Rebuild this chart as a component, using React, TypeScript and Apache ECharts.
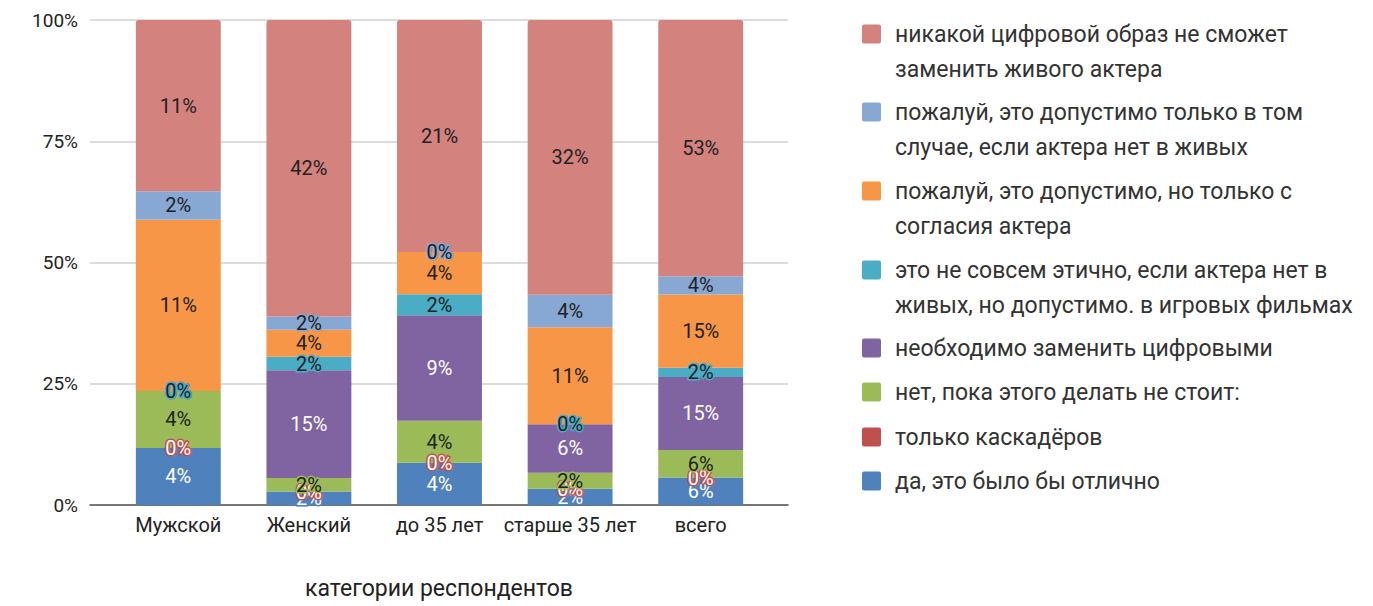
import React, { useEffect, useRef } from 'react';
import * as echarts from 'echarts';

// categories of respondents
const categories = ['Мужской', 'Женский', 'до 35 лет', 'старше 35 лет', 'всего'];
const yTickValues = [0, 0.25, 0.5, 0.75, 1];
const totalRespondents = 53;

// respondent counts per answer (stack order, bottom → top)
const countDa = [2, 1, 2, 1, 3];
const countKaskadery = [0, 0, 0, 0, 0];
const countNet = [2, 1, 2, 1, 3];
const countNeobhodimo = [0, 8, 5, 3, 8];
const countNeEtichno = [0, 1, 1, 0, 1];
const countSoglasie = [6, 2, 2, 6, 8];
const countVTomSluchae = [1, 1, 0, 2, 2];
const countNikakoy = [6, 22, 11, 17, 28];

const answerLines = [
  ['да, это было бы отлично'],
  ['только каскадёров'],
  ['нет, пока этого делать не стоит:'],
  ['необходимо заменить цифровыми'],
  ['это не совсем этично, если актера нет в', 'живых, но допустимо. в игровых фильмах'],
  ['пожалуй, это допустимо, но только с', 'согласия актера'],
  ['пожалуй, это допустимо только в том', 'случае, если актера нет в живых'],
  ['никакой цифровой образ не сможет', 'заменить живого актера'],
];

const colors = ['#4F81BD', '#C0504D', '#9BBB59', '#8064A2', '#4BACC6', '#F79646', '#86A8D3', '#D4827E'];
const labelColors = ['#ffffff', '#ffffff', '#222222', '#ffffff', '#222222', '#222222', '#222222', '#222222'];

const ICON_SINGLE = 'path://M2,0h15a2,2 0 0 1 2,2v15a2,2 0 0 1 -2,2h-15a2,2 0 0 1 -2,-2v-15a2,2 0 0 1 2,-2z';
const ICON_DOUBLE =
  'path://M2,0h15a2,2 0 0 1 2,2v15a2,2 0 0 1 -2,2h-15a2,2 0 0 1 -2,-2v-15a2,2 0 0 1 2,-2zM18.95,53.95h0.05v0.05h-0.05z';

export default function App() {
  const ref = useRef<HTMLDivElement>(null);
  useEffect(() => {
    document.body.style.margin = '0';
    const chart = echarts.init(ref.current!, null, { renderer: 'svg' });
    const valueSets = [countDa, countKaskadery, countNet, countNeobhodimo, countNeEtichno, countSoglasie, countVTomSluchae, countNikakoy];
    const names = answerLines.map((l) => l.join(' '));
    const columnTotals = categories.map((_, i) => valueSets.reduce((s, arr) => s + arr[i], 0));
    const font = 'Roboto';

    const series: any[] = valueSets.map((arr, k) => ({
      type: 'bar',
      name: names[k],
      stack: 'total',
      xAxisIndex: 0,
      yAxisIndex: 0,
      barCategoryGap: '35%',
      data: arr.map((v, i) => v / columnTotals[i]),
      itemStyle: { color: colors[k], borderRadius: k === 7 ? [3, 3, 0, 0] : 0 },
      label: {
        show: true,
        position: 'inside',
        formatter: (p: any) => Math.round((arr[p.dataIndex] / totalRespondents) * 100) + '%',
        color: labelColors[k],
        textBorderColor: colors[k],
        textBorderWidth: 3,
        fontSize: 20,
        fontFamily: font,
      },
    }));

    const legendCenters = [34, 112, 191, 270, 348, 392, 437, 481];
    const lineH = 35;
    const legends = [7, 6, 5, 4, 3, 2, 1, 0].map((k, idx) => {
      const two = answerLines[k].length > 1;
      return {
        orient: 'vertical',
        left: 862,
        top: legendCenters[idx] - 17.5,
        padding: 0,
        itemWidth: 19,
        itemHeight: two ? 54 : 19,
        itemGap: 0,
        icon: two ? ICON_DOUBLE : ICON_SINGLE,
        data: [names[k]],
        formatter: () => answerLines[k].join('\n'),
        textStyle: {
          fontFamily: font,
          fontSize: 23,
          lineHeight: lineH,
          color: '#333333',
          padding: [0, 0, 0, 9],
        },
      };
    });

    chart.setOption({
      animation: false,
      textStyle: { fontFamily: font },
      grid: [
        { left: 113, right: 1373 - 766, top: 20, bottom: 101, outerBoundsMode: 'none', containLabel: false },
        { left: 90, right: 1373 - 788, top: 20, bottom: 101, outerBoundsMode: 'none', containLabel: false },
      ],
      xAxis: [
        {
          type: 'category',
          gridIndex: 0,
          data: categories,
          axisLine: { show: false },
          axisTick: { show: false },
          axisLabel: { fontSize: 20, color: '#222', margin: 10, interval: 0, fontFamily: font },
        },
        {
          type: 'value',
          gridIndex: 1,
          min: 0,
          max: 1,
          axisLine: { show: true, lineStyle: { color: '#555', width: 1.5 } },
          axisTick: { show: false },
          axisLabel: { show: false },
          splitLine: { show: false },
          name: 'категории респондентов',
          nameLocation: 'middle',
          nameGap: 72,
          nameTextStyle: { fontSize: 23, color: '#222', fontFamily: font },
        },
      ],
      yAxis: [
        { type: 'value', gridIndex: 0, min: 0, max: 1, show: false },
        {
          type: 'value',
          gridIndex: 1,
          min: 0,
          max: 1,
          interval: 0.25,
          axisLine: { show: false },
          axisTick: { show: false },
          splitLine: { show: true, lineStyle: { color: '#d0d0d0', width: 1.5 } },
          axisLabel: {
            fontSize: 19,
            color: '#222',
            margin: 12,
            fontFamily: font,
            customValues: yTickValues,
            formatter: (v: number) => Math.round(v * 100) + '%',
          },
        },
      ],
      legend: legends,
      series,
    });
    return () => chart.dispose();
  }, []);
  return <div ref={ref} style={{ width: 1373, height: 606 }} />;
}
